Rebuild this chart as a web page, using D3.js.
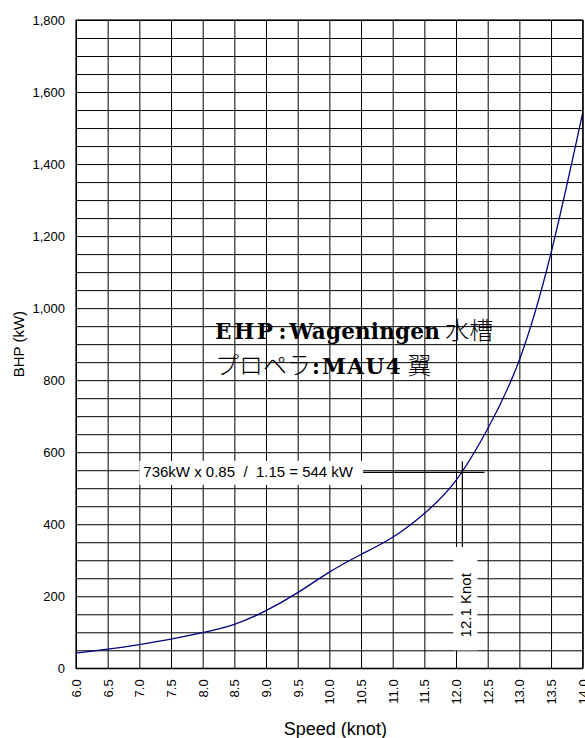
<!DOCTYPE html>
<html>
<head>
<meta charset="utf-8">
<script src="https://cdn.jsdelivr.net/npm/d3@7"></script>
<style>
  body { margin: 0; background: #fff; }
  svg { display: block; }
</style>
</head>
<body>
<svg id="chart" width="585" height="738"></svg>
<script>
// Ship speed (knot) vs required brake horsepower (kW)
const speeds = [6.0, 6.5, 7.0, 7.5, 8.0, 8.5, 9.0, 9.5, 10.0, 10.5, 11.0, 11.5, 12.0, 12.5, 13.0, 13.5, 14.0];
const bhpValues = [42, 53, 66, 81, 99, 122, 160, 210, 267, 316, 364, 430, 522, 665, 856, 1153, 1542];

const xTickValues = [6.0, 6.5, 7.0, 7.5, 8.0, 8.5, 9.0, 9.5, 10.0, 10.5, 11.0, 11.5, 12.0, 12.5, 13.0, 13.5, 14.0];
const xTickLabels = ["6.0", "6.5", "7.0", "7.5", "8.0", "8.5", "9.0", "9.5", "10.0", "10.5", "11.0", "11.5", "12.0", "12.5", "13.0", "13.5", "14.0"];
const yTickValues = [0, 200, 400, 600, 800, 1000, 1200, 1400, 1600, 1800];
const yTickLabels = ["0", "200", "400", "600", "800", "1,000", "1,200", "1,400", "1,600", "1,800"];

// Operating point annotation
const designSpeed = 12.1;
const designPower = 544;
const powerLabel = "736kW x 0.85  /  1.15 = 544 kW";
const speedLabel = "12.1 Knot";
// heading parts: [text, kind, dx, letter-spacing]
const titleLine1 = [["EHP", "latin", 0, 2.5], [":", "latin", 3, 0], ["Wageningen", "latin", 3, 0.2], [" 水槽", "cjk", 0, 0]];
const titleLine2 = [["プロペラ", "cjk", 0, 0], [":", "latin", 1, 0], ["MAU4", "latin", 2, 1.5], [" 翼", "cjk", 0, 0]];

const W = 585, H = 738;
const margin = { top: 20, right: 2.3, bottom: 69.7, left: 76 };
const iw = W - margin.left - margin.right;
const ih = H - margin.top - margin.bottom;
const sans = "Liberation Sans, Arial, sans-serif";

const svg = d3.select("#chart");
const g = svg.append("g").attr("transform", `translate(${margin.left},${margin.top})`);

const x = d3.scaleLinear().domain([6, 14]).range([0, iw]);
const y = d3.scaleLinear().domain([0, 1800]).range([ih, 0]);

// grid
g.append("g").attr("class", "grid")
  .call(d3.axisLeft(y).tickValues(d3.range(0, 1801, 50)).tickSize(-iw).tickFormat(""));
g.append("g").attr("class", "grid")
  .attr("transform", `translate(0,${ih})`)
  .call(d3.axisBottom(x).tickValues(xTickValues).tickSize(-ih).tickFormat(""));
g.selectAll(".grid .domain").remove();
g.selectAll(".grid line").attr("stroke", "#000").attr("stroke-width", 1);

// power curve
const line = d3.line()
  .x((d, i) => x(speeds[i]))
  .y(d => y(d))
  .curve(d3.curveNatural);
g.append("path")
  .datum(bhpValues)
  .attr("d", line)
  .attr("fill", "none")
  .attr("stroke", "#000080")
  .attr("stroke-width", 1.3);

// operating point lines
g.append("line")
  .attr("x1", x(10.53)).attr("x2", x(12.45))
  .attr("y1", y(designPower)).attr("y2", y(designPower))
  .attr("stroke", "#000").attr("stroke-width", 1.2);
g.append("line")
  .attr("x1", x(designSpeed)).attr("x2", x(designSpeed))
  .attr("y1", y(575)).attr("y2", y(337))
  .attr("stroke", "#000").attr("stroke-width", 1.2);

// power label with white box
g.append("rect")
  .attr("x", x(7.0))
  .attr("y", y(designPower) - 11.5)
  .attr("width", x(10.53) - x(7.0))
  .attr("height", 24)
  .attr("fill", "#fff");
g.append("text")
  .attr("x", x(7.0) + 4)
  .attr("y", y(designPower) + 5)
  .attr("font-family", sans)
  .attr("font-size", 15)
  .style("white-space", "pre")
  .text(powerLabel);

// speed label with white box
g.append("rect")
  .attr("x", x(designSpeed) - 9)
  .attr("y", y(337))
  .attr("width", 24)
  .attr("height", y(50) - y(337))
  .attr("fill", "#fff");
g.append("text")
  .attr("transform", `translate(${x(designSpeed) + 8.5},${y(175)}) rotate(-90)`)
  .attr("text-anchor", "middle")
  .attr("font-family", sans)
  .attr("font-size", 15)
  .text(speedLabel);

// heading text
function drawLine(parts, yPos) {
  const t = g.append("text").attr("x", x(6) + 139).attr("y", yPos).style("white-space", "pre");
  parts.forEach(([s, kind, dx, ls]) => {
    const ts = t.append("tspan").text(s).attr("dx", dx).style("letter-spacing", ls + "px");
    if (kind === "latin") {
      ts.attr("font-family", "DejaVu Serif, serif").attr("font-weight", "bold").attr("font-size", 21.5);
    } else {
      ts.attr("font-family", "Noto Sans CJK JP, sans-serif").attr("font-weight", 300).attr("font-size", 24);
    }
  });
}
drawLine(titleLine1, y(914));
drawLine(titleLine2, y(816));

// plot border
g.append("rect")
  .attr("width", iw).attr("height", ih)
  .attr("fill", "none").attr("stroke", "#000").attr("stroke-width", 1.2);

// y axis
const yAxis = g.append("g")
  .call(d3.axisLeft(y).tickValues(yTickValues).tickSize(0).tickPadding(11)
    .tickFormat((d, i) => yTickLabels[i]));
yAxis.select(".domain").remove();
yAxis.selectAll("text")
  .attr("font-family", sans)
  .attr("font-size", 13).attr("fill", "#000");

// x axis
const xAxis = g.append("g")
  .attr("transform", `translate(0,${ih})`)
  .call(d3.axisBottom(x).tickValues(xTickValues).tickSize(0)
    .tickFormat((d, i) => xTickLabels[i]));
xAxis.select(".domain").remove();
xAxis.selectAll("text")
  .attr("font-family", sans)
  .attr("font-size", 13).attr("fill", "#000")
  .attr("transform", "rotate(-90)")
  .attr("text-anchor", "end")
  .attr("dy", "0.35em")
  .attr("x", -11)
  .attr("y", 0);

// axis titles
svg.append("text")
  .attr("transform", `translate(24,${margin.top + ih / 2}) rotate(-90)`)
  .attr("text-anchor", "middle")
  .attr("font-family", sans)
  .attr("font-size", 15)
  .text("BHP (kW)");
svg.append("text")
  .attr("x", margin.left + iw / 2 + 6)
  .attr("y", 735)
  .attr("text-anchor", "middle")
  .attr("font-family", sans)
  .attr("font-size", 18)
  .text("Speed (knot)");
</script>
</body>
</html>
